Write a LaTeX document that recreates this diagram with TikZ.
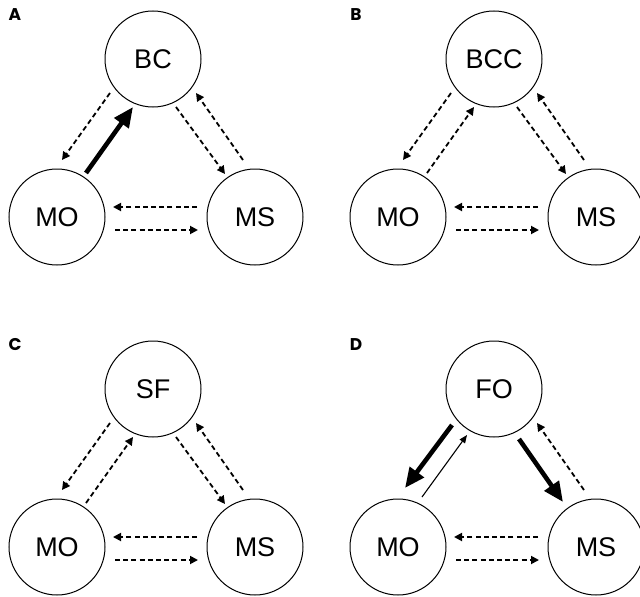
\documentclass[tikz,border=0pt]{standalone}
\usepackage{fontspec}
\setmainfont{Liberation Sans}
\newfontfamily\tagfont{Poppins}
\usetikzlibrary{arrows.meta}

\tikzset{
  unit/.style={circle, draw, line width=1pt, minimum size=96pt, inner sep=0pt,
    font=\fontsize{27}{27}\selectfont},
  tag/.style={font=\tagfont\bfseries\fontsize{17}{17}\selectfont, inner sep=0pt},
  weak/.style={-{Triangle[length=8pt,width=8pt]}, line width=1.8pt,
    dash pattern=on 5pt off 3.2pt},
  strong/.style={-{Triangle[length=20pt,width=17pt]}, line width=4.6pt},
  slim/.style={-{Triangle[length=8pt,width=6.5pt]}, line width=1.1pt},
}

% one panel: three units; #1 prefix, #2 panel origin, #3 top label, #4 panel tag
\newcommand\trio[4]{%
  \begin{scope}[shift={#2}]
    \node[tag] (#1-tag) at (15,15) {#4};
    \node[unit] (#1-t)  at (153,59)  {#3};
    \node[unit] (#1-mo) at (57,217)  {MO};
    \node[unit] (#1-ms) at (255,217) {MS};
  \end{scope}}

\begin{document}
\begin{tikzpicture}[x=1pt, y=-1pt]
  \useasboundingbox (0,0) rectangle (640,597);

  % A
  \trio{a}{(0,0)}{BC}{A}
  \draw[weak]   ([shift={(-43,34)}]a-t.center)  -- ([shift={(5,-57)}]a-mo.center);
  \draw[strong] ([shift={(29,-44)}]a-mo.center) -- ([shift={(-20,48)}]a-t.center);
  \draw[weak]   ([shift={(23,48)}]a-t.center)   -- ([shift={(-30,-43)}]a-ms.center);
  \draw[weak]   ([shift={(-12,-57)}]a-ms.center) -- ([shift={(43,34)}]a-t.center);
  \draw[weak]   ([shift={(-58,-10)}]a-ms.center) -- ([shift={(56,-10)}]a-mo.center);
  \draw[weak]   ([shift={(58,13)}]a-mo.center)  -- ([shift={(-57,13)}]a-ms.center);

  % B
  \trio{b}{(341,0)}{BCC}{B}
  \draw[weak] ([shift={(-43,34)}]b-t.center)  -- ([shift={(5,-57)}]b-mo.center);
  \draw[weak] ([shift={(29,-44)}]b-mo.center) -- ([shift={(-20,48)}]b-t.center);
  \draw[weak] ([shift={(23,48)}]b-t.center)   -- ([shift={(-30,-43)}]b-ms.center);
  \draw[weak] ([shift={(-12,-57)}]b-ms.center) -- ([shift={(43,34)}]b-t.center);
  \draw[weak] ([shift={(-58,-10)}]b-ms.center) -- ([shift={(56,-10)}]b-mo.center);
  \draw[weak] ([shift={(58,13)}]b-mo.center)  -- ([shift={(-57,13)}]b-ms.center);

  % C
  \trio{c}{(0,330)}{SF}{C}
  \draw[weak] ([shift={(-43,34)}]c-t.center)  -- ([shift={(5,-57)}]c-mo.center);
  \draw[weak] ([shift={(29,-44)}]c-mo.center) -- ([shift={(-20,48)}]c-t.center);
  \draw[weak] ([shift={(23,48)}]c-t.center)   -- ([shift={(-30,-43)}]c-ms.center);
  \draw[weak] ([shift={(-12,-57)}]c-ms.center) -- ([shift={(43,34)}]c-t.center);
  \draw[weak] ([shift={(-58,-10)}]c-ms.center) -- ([shift={(56,-10)}]c-mo.center);
  \draw[weak] ([shift={(58,13)}]c-mo.center)  -- ([shift={(-57,13)}]c-ms.center);

  % D
  \trio{d}{(341,330)}{FO}{D}
  \draw[strong] ([shift={(-42,36)}]d-t.center)  -- ([shift={(7,-59)}]d-mo.center);
  \draw[slim]   ([shift={(24,-50)}]d-mo.center) -- ([shift={(-27,46)}]d-t.center);
  \draw[strong] ([shift={(25,50)}]d-t.center)   -- ([shift={(-33,-45)}]d-ms.center);
  \draw[weak]   ([shift={(-12,-57)}]d-ms.center) -- ([shift={(43,34)}]d-t.center);
  \draw[weak]   ([shift={(-58,-10)}]d-ms.center) -- ([shift={(56,-10)}]d-mo.center);
  \draw[weak]   ([shift={(58,13)}]d-mo.center)  -- ([shift={(-57,13)}]d-ms.center);
\end{tikzpicture}
\end{document}
